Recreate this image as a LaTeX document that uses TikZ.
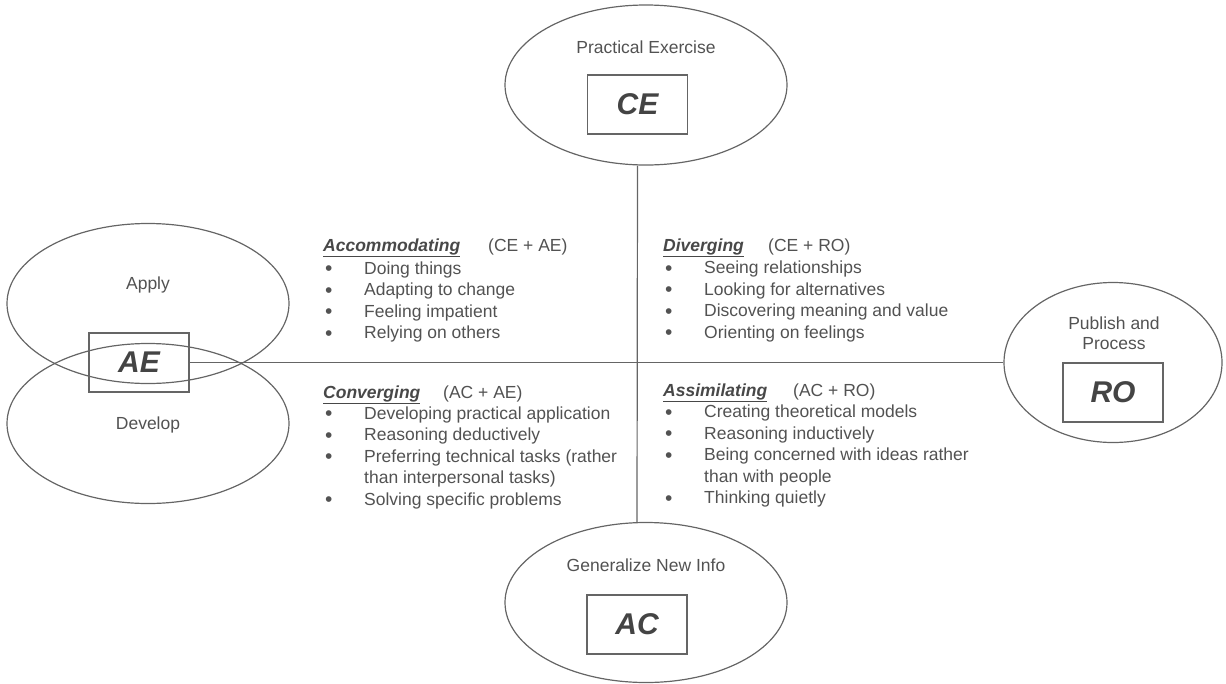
\documentclass[tikz,border=0pt]{standalone}
\usepackage{fontspec}
\setmainfont{Liberation Sans}
\usetikzlibrary{shapes.geometric}
\definecolor{linegray}{HTML}{656565}
\definecolor{txtgray}{HTML}{525252}
\definecolor{hdgray}{HTML}{484848}
\definecolor{biggray}{HTML}{444444}
\newcommand{\hdtxt}[1]{{\color{hdgray}\underline{\textbf{\textit{#1}}}}}
\newcommand{\bulmark}{\hspace{2pt}\raisebox{-1.5pt}{\fontsize{21}{21}\selectfont •}}
\tikzset{
  ell/.style={draw=linegray, line width=1.2pt, ellipse, inner sep=0pt, minimum width=282pt, minimum height=160pt},
  codebox/.style={draw=linegray, line width=1.2pt, rectangle, inner sep=0pt, minimum width=100pt, minimum height=59pt,
    font=\fontsize{30}{30}\selectfont\bfseries\itshape, text=biggray},
  lbl/.style={inner sep=0pt, font=\fontsize{17.5}{20}\selectfont, text=txtgray, align=center},
  blk/.style={inner sep=0pt, anchor=base west, font=\fontsize{17.5}{21.5}\selectfont, text=txtgray},
  conn/.style={draw=linegray, line width=1.2pt}
}
\begin{document}
\begin{tikzpicture}[x=1pt,y=-1pt]
\useasboundingbox (0,0) rectangle (1226,683);
% ellipses
\node[ell] (ce) at (646,85) {};
\node[ell] (ac) at (646,602.5) {};
\node[ell] (apply) at (148,303.5) {};
\node[ell] (develop) at (148,423.5) {};
\node[ell, minimum width=218pt] (ro) at (1113,362.5) {};
% labels
\node[lbl] (cel) at (646,47) {Practical Exercise};
\node[lbl] (acl) at (646,565) {Generalize New Info};
\node[lbl] (applyl) at (148,285) {Apply};
\node[lbl] (developl) at (148,425) {Develop};
\node[lbl] (rol) at (1114,333) {Publish and\\Process};
% boxes
\node[codebox] (cebox) at (637.5,104.5) {CE};
\node[codebox] (acbox) at (637,624.5) {AC};
\node[codebox] (robox) at (1113,392.5) {RO};
\node[codebox] (aebox) at (139,362.5) {AE};
% axes
\draw[conn] (cebox.center |- ce.south) -- (acbox.center |- ac.north);
\draw[conn] (aebox.east) -- (ro.west);
% text blocks
\node[blk] (accom) at (323,251) {\begin{tabular}[t]{@{}p{41pt}@{}l@{}}
\multicolumn{2}{@{}l@{}}{\makebox[165pt][l]{\hdtxt{Accommodating}}(CE + AE)}\\[1.5pt]
\bulmark & Doing things\\
\bulmark & Adapting to change\\
\bulmark & Feeling impatient\\
\bulmark & Relying on others
\end{tabular}};
\node[blk] (conv) at (323,398) {\begin{tabular}[t]{@{}p{41pt}@{}l@{}}
\multicolumn{2}{@{}l@{}}{\makebox[120pt][l]{\hdtxt{Converging}}(AC + AE)}\\[-0.5pt]
\bulmark & Developing practical application\\
\bulmark & Reasoning deductively\\
\bulmark & Preferring technical tasks (rather\\
 & than interpersonal tasks)\\
\bulmark & Solving specific problems
\end{tabular}};
\node[blk] (div) at (663,251) {\begin{tabular}[t]{@{}p{41pt}@{}l@{}}
\multicolumn{2}{@{}l@{}}{\makebox[105pt][l]{\hdtxt{Diverging}}(CE + RO)}\\[1pt]
\bulmark & Seeing relationships\\
\bulmark & Looking for alternatives\\
\bulmark & Discovering meaning and value\\
\bulmark & Orienting on feelings
\end{tabular}};
\node[blk] (assim) at (663,396) {\begin{tabular}[t]{@{}p{41pt}@{}l@{}}
\multicolumn{2}{@{}l@{}}{\makebox[130pt][l]{\hdtxt{Assimilating}}(AC + RO)}\\[0pt]
\bulmark & Creating theoretical models\\
\bulmark & Reasoning inductively\\
\bulmark & Being concerned with ideas rather\\
 & than with people\\
\bulmark & Thinking quietly
\end{tabular}};
\end{tikzpicture}
\end{document}
